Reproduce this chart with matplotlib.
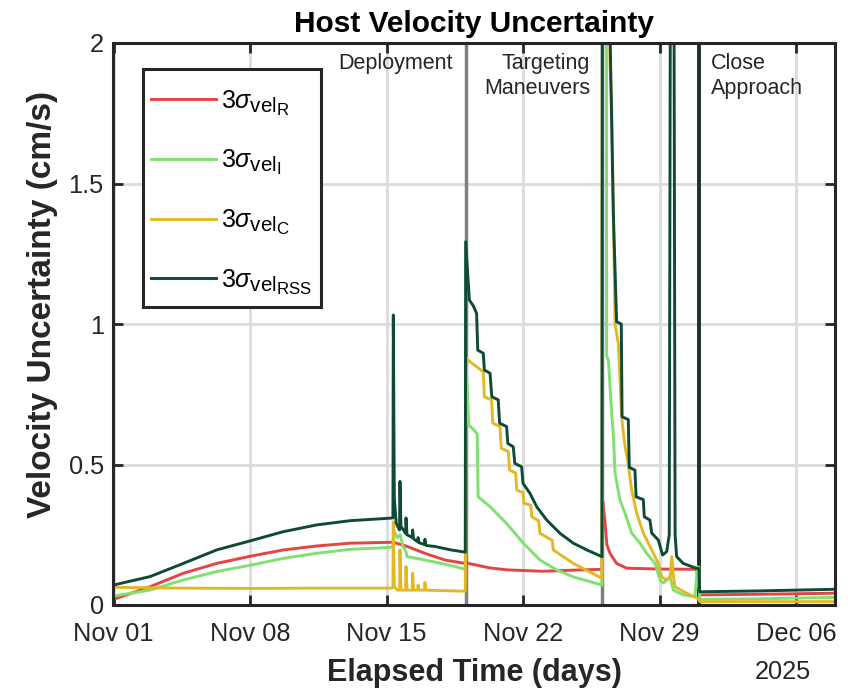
import numpy as np
import matplotlib
matplotlib.use("Agg")
import matplotlib.pyplot as plt
import matplotlib.dates as mdates
import matplotlib._mathtext as mathtext_internal
from matplotlib.patches import Rectangle

plt.rcParams['font.family'] = 'Liberation Sans'
plt.rcParams['mathtext.fontset'] = 'custom'
plt.rcParams['mathtext.rm'] = 'Liberation Sans'
plt.rcParams['mathtext.it'] = 'Liberation Sans:italic'
plt.rcParams['mathtext.bf'] = 'Liberation Sans:bold'
# MATLAB-style subscripts are a bit larger than mathtext's default
mathtext_internal.SHRINK_FACTOR = 0.82

# days since 2025-11-01, values in cm/s (values above 2 are off the chart)
t_r = [0, 1.87, 3.58, 5.29, 7.05, 8.71, 10.42, 12.13, 14.18,
       14.35, 15.0, 15.97, 17.0, 18.04,
       18.08, 18.6, 19.3, 20.2, 22.0, 24.0, 25.05,
       25.09, 25.2, 25.3, 25.46, 25.8, 26.32, 28.0, 29.9,
       30.06, 33.0, 37.0]
v_r = [0.02, 0.065, 0.113, 0.148, 0.174, 0.196, 0.21, 0.22, 0.223,
       0.223, 0.21, 0.184, 0.16, 0.148,
       0.15, 0.142, 0.132, 0.125, 0.12, 0.125, 0.127,
       0.368, 0.30, 0.215, 0.184, 0.148, 0.131, 0.128, 0.127,
       0.036, 0.038, 0.042]

t_i = [0, 1.87, 3.58, 5.29, 7.05, 8.71, 10.42, 12.13, 14.18, 14.33,
       14.36, 14.55, 14.7, 14.85, 15.0, 15.05, 15.4, 15.97, 16.8, 17.5, 18.04,
       18.08, 18.22, 18.45, 18.65, 18.70, 19.31, 20.16, 21.02, 21.87, 22.73, 23.58, 25.05,
       25.08, 25.27, 25.29, 25.38, 25.55, 25.63, 25.72, 25.97, 26.23, 26.57, 27.0,
       27.34, 27.77, 28.03, 28.2, 28.54, 28.71, 29.22, 29.82, 29.95, 30.02,
       30.06, 33.0, 37.0]
v_i = [0.032, 0.053, 0.089, 0.119, 0.142, 0.166, 0.184, 0.198, 0.205, 0.208,
       0.267, 0.24, 0.25, 0.208, 0.19, 0.172, 0.168, 0.16, 0.148, 0.137, 0.127,
       0.86, 0.64, 0.625, 0.61, 0.385, 0.35, 0.29, 0.22, 0.16, 0.125, 0.10, 0.071,
       3.0, 3.0, 0.887, 0.87, 0.68, 0.61, 0.47, 0.374, 0.327, 0.256, 0.22,
       0.184, 0.148, 0.089, 0.078, 0.10, 0.053, 0.036, 0.03, 0.135, 0.135,
       0.02, 0.022, 0.027]

t_c = [0, 3.6, 7.05, 10.4, 14.18, 14.33,
       14.35, 14.40, 14.55, 14.67, 14.69, 14.74, 14.98, 15.0, 15.05, 15.32, 15.34, 15.39,
       15.60, 15.62, 15.66, 15.95, 15.97, 16.02, 17.0, 18.04,
       18.08, 18.28, 18.62, 18.96, 19.02, 19.39, 19.45, 19.82, 19.88, 20.25, 20.31,
       20.62, 20.68, 21.0, 21.05, 21.4, 21.45, 21.8, 21.87, 22.5, 22.55, 23.58, 25.05,
       25.08, 25.40, 25.46, 25.55, 25.72, 25.89, 26.06, 26.2, 26.4, 26.57, 26.83,
       27.17, 27.6, 27.94, 28.11, 28.37, 28.55, 28.63, 28.72, 28.79, 29.39, 29.91, 30.02,
       30.06, 37.0]
v_c = [0.063, 0.06, 0.059, 0.06, 0.06, 0.062,
       0.296, 0.065, 0.053, 0.053, 0.196, 0.053, 0.053, 0.137, 0.053, 0.053, 0.113, 0.053,
       0.053, 0.071, 0.053, 0.053, 0.08, 0.053, 0.051, 0.049,
       0.88, 0.866, 0.848, 0.83, 0.741, 0.73, 0.647, 0.635, 0.558, 0.546, 0.48,
       0.47, 0.409, 0.40, 0.362, 0.355, 0.314, 0.30, 0.255, 0.23, 0.196, 0.148, 0.095,
       3.0, 3.0, 1.92, 1.79, 1.0, 0.93, 0.67, 0.58, 0.50, 0.41, 0.327,
       0.256, 0.196, 0.148, 0.10, 0.089, 0.10, 0.172, 0.10, 0.065, 0.042, 0.025, 0.02,
       0.012, 0.012]

t_rss = [0, 1.87, 3.58, 5.29, 7.05, 8.71, 10.42, 12.13, 14.18, 14.33,
         14.35, 14.40, 14.5, 14.67, 14.69, 14.74, 14.98, 15.0, 15.05, 15.32, 15.34, 15.39,
         15.60, 15.62, 15.66, 15.95, 15.97, 16.02, 16.5, 17.3, 18.04,
         18.06, 18.25, 18.45, 18.62, 18.68, 18.96, 19.02, 19.31, 19.40, 19.73, 19.80,
         20.16, 20.22, 20.50, 20.58, 20.93, 21.0, 21.36, 21.70, 22.22, 22.9, 23.58,
         24.27, 25.05,
         25.08, 25.40, 25.46, 25.63, 25.80, 26.04, 26.08, 26.40, 26.45, 26.74, 26.80,
         27.17, 27.22, 27.51, 27.60, 27.94, 28.16, 28.37, 28.50, 28.58, 28.72, 28.80,
         28.88, 29.22, 29.91, 30.02,
         30.06, 33.0, 37.0]
v_rss = [0.071, 0.101, 0.148, 0.196, 0.229, 0.261, 0.285, 0.30, 0.309, 0.31,
         1.032, 0.38, 0.29, 0.267, 0.44, 0.28, 0.255, 0.31, 0.25, 0.24, 0.267, 0.235,
         0.225, 0.24, 0.222, 0.215, 0.234, 0.212, 0.208, 0.196, 0.188,
         1.293, 1.085, 1.065, 1.038, 0.907, 0.896, 0.836, 0.825, 0.741, 0.73, 0.647,
         0.635, 0.575, 0.563, 0.504, 0.492, 0.433, 0.397, 0.35, 0.302, 0.255, 0.22,
         0.196, 0.172,
         3.0, 3.0, 2.05, 1.4, 1.008, 1.0, 0.67, 0.66, 0.49, 0.48, 0.385,
         0.375, 0.314, 0.302, 0.256, 0.231, 0.178, 0.19, 0.25, 3.0, 3.0, 0.25,
         0.172, 0.148, 0.13, 0.13,
         0.047, 0.05, 0.056]

phase_lines = [18.06, 25.07]
approach_line = 30.04
labels = [r'$3\sigma_{\mathrm{vel}_{\mathrm{R}}}$', r'$3\sigma_{\mathrm{vel}_{\mathrm{I}}}$',
          r'$3\sigma_{\mathrm{vel}_{\mathrm{C}}}$', r'$3\sigma_{\mathrm{vel}_{\mathrm{RSS}}}$']
colors = ['#e44444', '#80e070', '#e3b826', '#0e4a36']

start = mdates.date2num(np.datetime64('2025-11-01T00:00'))
dark = '#262626'

fig = plt.figure(figsize=(8.67, 6.93), dpi=100)
ax = fig.add_axes([113.5 / 867, 1 - 605 / 693, 721.5 / 867, 562 / 693])

for xl in phase_lines:
    ax.axvline(start + xl, color='#808080', lw=2.5, zorder=1.5)
ax.axvline(start + approach_line, color='#1e2e28', lw=2.8, zorder=1.5)

handles = []
for t, v, c in zip([t_r, t_i, t_c, t_rss], [v_r, v_i, v_c, v_rss], colors):
    h, = ax.plot(start + np.array(t), v, color=c, lw=2.1, zorder=2)
    handles.append(h)

ax.set_xlim(start, start + 37)
ax.set_ylim(0, 2)
ax.set_xticks(start + np.arange(0, 36, 7))
ax.xaxis.set_major_formatter(mdates.DateFormatter('%b %d'))
ax.set_yticks([0, 0.5, 1, 1.5, 2])
ax.set_yticklabels(['0', '0.5', '1', '1.5', '2'])
ax.grid(True, color='#dcdcdc', lw=2)
ax.set_axisbelow(True)
ax.tick_params(direction='in', length=7, width=2, top=True, right=True,
               labelsize=18.3, labelcolor=dark, color=dark)
ax.tick_params(axis='x', pad=12)
ax.tick_params(axis='y', pad=7)
for s in ax.spines.values():
    s.set_linewidth(2.2)
    s.set_color(dark)

ax.set_title('Host Velocity Uncertainty', fontsize=21.5, fontweight='bold', pad=8)
ax.set_xlabel('Elapsed Time (days)', fontsize=22, fontweight='bold', color=dark, labelpad=9)
ax.set_ylabel('Velocity Uncertainty (cm/s)', fontsize=24, fontweight='bold', color=dark)
ax.yaxis.set_label_coords(-0.077, 0.535)

ax.text(start + 17.41, 1.965, 'Deployment', ha='right', va='top', fontsize=15.5, color=dark)
ax.text(start + 24.44, 1.965, 'Targeting\nManeuvers', ha='right', va='top', fontsize=15.5,
        color=dark, linespacing=1.25)
ax.text(start + 30.62, 1.965, 'Close\nApproach', ha='left', va='top', fontsize=15.5,
        color=dark, linespacing=1.25)
fig.text(755 / 867, 1 - 672 / 693, '2025', ha='left', va='center', fontsize=18.3, color=dark)

# legend box drawn separately: MATLAB's box is roomier vertically than matplotlib's
box = Rectangle((0.041, 0.530), 0.246, 0.424, transform=ax.transAxes, facecolor='white',
                edgecolor=dark, lw=2.2, zorder=4.5)
ax.add_patch(box)
leg = ax.legend(handles, labels, loc='center', bbox_to_anchor=(0.164, 0.734),
                borderaxespad=0, fontsize=18, frameon=False, handlelength=2.6,
                handletextpad=0.2, labelspacing=1.2, borderpad=0.2)
leg.set_zorder(5)

fig.savefig('out.png', dpi=100)
